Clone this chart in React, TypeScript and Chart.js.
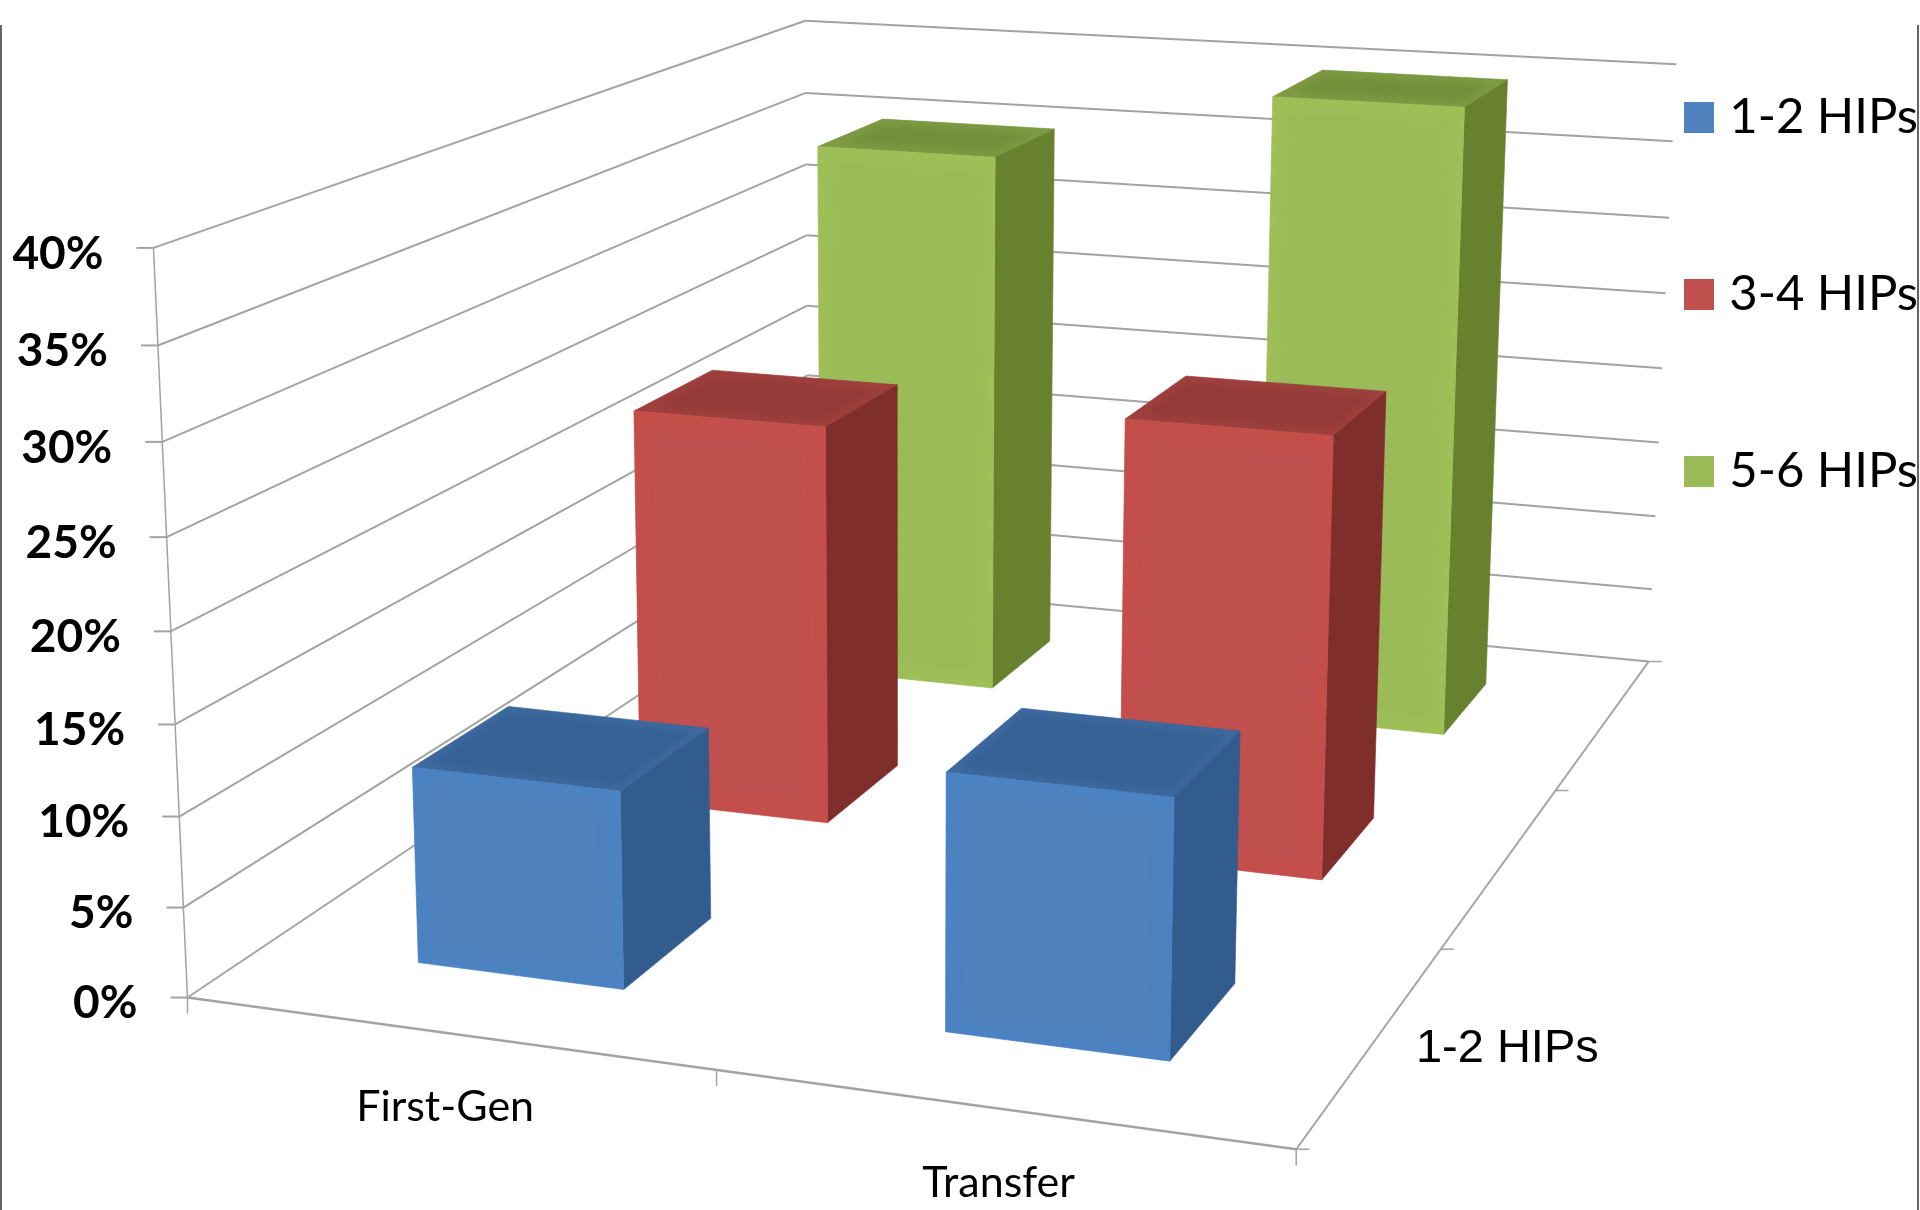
import React, { useEffect, useRef } from "react";
import { Chart, registerables, BarController } from "chart.js";

Chart.register(...registerables);

// Chart data
const categories = ["First-Gen", "Transfer"];
const seriesNames = ["1-2 HIPs", "3-4 HIPs", "5-6 HIPs"];
const oneTwoHips = [11, 14];
const threeFourHips = [24, 25.9];
const fiveSixHips = [35, 39.8];
const seriesColors = ["#4F81BD", "#C0504D", "#9BBB59"];
const topColors = ["#366195", "#943B39", "#72903A"];
const sideColors = ["#325C8E", "#7F2E2C", "#67812F"];
const bevelColors = ["#4387CE", "#CE4B46", "#A2C853"];

// Box proportions of the 3D plot: spacing between bars as a share of bar size.
const GAP_WIDTH = 1.5;
const GAP_DEPTH = 1.5;
const GRID = "#a3a3a3";

// Camera calibration: cube position (across, depth, height) and where it lands on the canvas.
const anchors = [
  [0, 0, 0, 187.7, 997.7],
  [1, 0, 0, 1295.6, 1148.6],
  [1, 1, 0, 1648, 661.5],
  [0, 0, 1, 153.3, 248.3],
  [0, 1, 1, 805.4, 20.6],
  [1, 1, 1, 1676, 64.5],
  [0.5, 0, 0, 716, 1070],
  [1, 1 / 3, 0, 1442, 949.4],
  [1, 2 / 3, 0, 1555.8, 791],
  [0, 0, 0.5, 171, 631],
  [1, 1, 0.5, 1662.5, 368],
];

// Least-squares fit of a 3x4 projection matrix with its last entry fixed at 1.
function solveCamera(rows: number[][]) {
  const n = 11;
  const A = Array.from({ length: n }, () => new Array(n + 1).fill(0));
  const add = (c: number[], r: number) => {
    for (let i = 0; i < n; i++) {
      for (let j = 0; j < n; j++) A[i][j] += c[i] * c[j];
      A[i][n] += c[i] * r;
    }
  };
  for (const [u, v, w, x, y] of rows) {
    add([u, v, w, 1, 0, 0, 0, 0, -x * u, -x * v, -x * w], x);
    add([0, 0, 0, 0, u, v, w, 1, -y * u, -y * v, -y * w], y);
  }
  for (let c = 0; c < n; c++) {
    let p = c;
    for (let r = c + 1; r < n; r++) if (Math.abs(A[r][c]) > Math.abs(A[p][c])) p = r;
    [A[c], A[p]] = [A[p], A[c]];
    for (let r = 0; r < n; r++) {
      if (r === c) continue;
      const f = A[r][c] / A[c][c];
      for (let k = c; k <= n; k++) A[r][k] -= f * A[c][k];
    }
  }
  return A.map((row, i) => row[n] / row[i]);
}

const cam = solveCamera(anchors);
type P = { x: number; y: number };
const project = (u: number, v: number, w: number): P => {
  const d = cam[8] * u + cam[9] * v + cam[10] * w + 1;
  return {
    x: (cam[0] * u + cam[1] * v + cam[2] * w + cam[3]) / d,
    y: (cam[4] * u + cam[5] * v + cam[6] * w + cam[7]) / d,
  };
};

function segment(ctx: CanvasRenderingContext2D, a: P, b: P, width: number, color = GRID) {
  ctx.beginPath();
  ctx.moveTo(a.x, a.y);
  ctx.lineTo(b.x, b.y);
  ctx.lineWidth = width;
  ctx.strokeStyle = color;
  ctx.stroke();
}

function tracePath(ctx: CanvasRenderingContext2D, pts: P[]) {
  ctx.beginPath();
  pts.forEach((p, i) => (i ? ctx.lineTo(p.x, p.y) : ctx.moveTo(p.x, p.y)));
  ctx.closePath();
}

function quad(ctx: CanvasRenderingContext2D, pts: P[], fill: string) {
  tracePath(ctx, pts);
  ctx.fillStyle = fill;
  ctx.fill();
  ctx.lineWidth = 0.6;
  ctx.strokeStyle = fill;
  ctx.stroke();
}

// Soft rim along the inside of a face, the rounded-bevel look of the box fronts.
function softRim(ctx: CanvasRenderingContext2D, pts: P[], color: string, width: number, blur: number, alpha: number) {
  ctx.save();
  tracePath(ctx, pts);
  ctx.clip();
  ctx.filter = `blur(${blur}px)`;
  ctx.globalAlpha = alpha;
  tracePath(ctx, pts);
  ctx.lineWidth = width;
  ctx.strokeStyle = color;
  ctx.stroke();
  ctx.restore();
}

const dec = (scale: any, value: number) => scale.getDecimalForPixel(scale.getPixelForValue(value));

// Bar controller that paints every element as a shaded box in the projected cube.
class Bar3DController extends BarController {
  static id = "bar3d";
  draw() {
    const chart = this.chart;
    const ctx = chart.ctx;
    const { x: xs, y: ys, z: zs } = chart.scales as any;
    const ds = this.index;
    const halfU = 0.5 / categories.length / (1 + GAP_WIDTH);
    const halfV = 0.5 / seriesNames.length / (1 + GAP_DEPTH);
    const values = this.getDataset().data as number[];
    const vc = dec(zs, ds);
    values.forEach((value, i) => {
      const uc = dec(xs, i);
      const w = dec(ys, value);
      const [u0, u1, v0, v1] = [uc - halfU, uc + halfU, vc - halfV, vc + halfV];
      const fbl = project(u0, v0, 0);
      const fbr = project(u1, v0, 0);
      const ftl = project(u0, v0, w);
      const ftr = project(u1, v0, w);
      const bbr = project(u1, v1, 0);
      const btr = project(u1, v1, w);
      const btl = project(u0, v1, w);
      const top = [ftl, btl, btr, ftr];
      const side = [fbr, bbr, btr, ftr];
      const front = [fbl, fbr, ftr, ftl];
      quad(ctx, top, topColors[ds]);
      quad(ctx, side, sideColors[ds]);
      quad(ctx, front, seriesColors[ds]);
      softRim(ctx, top, seriesColors[ds], 10, 4, 0.3);
      softRim(ctx, front, bevelColors[ds], 20, 7, 0.4);
    });
  }
}
Chart.register(Bar3DController);

// Walls, floor, tick marks and axis labels around the boxes.
const framePlugin = {
  id: "frame3d",
  beforeDraw(chart: any) {
    // Legend sits in the top right corner and is cut at the frame edge.
    const lg = chart.legend;
    lg.left = 1556;
    lg.right = 1918;
    lg.top = -35;
    lg.bottom = 1210;
  },
  beforeDatasetsDraw(chart: any) {
    const ctx: CanvasRenderingContext2D = chart.ctx;
    const { y: ys } = chart.scales;
    ctx.save();
    ctx.lineCap = "butt";
    for (const tick of ys.ticks) {
      const w = dec(ys, tick.value);
      const front = project(0, 0, w);
      const corner = project(0, 1, w);
      const end = project(1, 1, w);
      segment(ctx, front, corner, 2);
      segment(ctx, corner, end, 2);
      segment(ctx, { x: front.x - 17, y: front.y }, front, 2);
      ctx.fillStyle = "#000";
      ctx.font = "bold 46px Lato";
      ctx.textAlign = "right";
      ctx.textBaseline = "middle";
      ctx.fillText(tick.label, front.x - 50, front.y + 6);
    }
    segment(ctx, project(0, 0, 0), project(0, 0, 1), 1.5);
    segment(ctx, project(0, 0, 0), project(1, 0, 0), 2.5);
    segment(ctx, project(1, 0, 0), project(1, 1, 0), 2);
    for (let i = 0; i <= categories.length; i++) {
      const p = project(i / categories.length, 0, 0);
      segment(ctx, p, { x: p.x, y: p.y + 16 }, 1.5);
    }
    for (let i = 0; i <= seriesNames.length; i++) {
      const p = project(1, i / seriesNames.length, 0);
      segment(ctx, p, { x: p.x + 13, y: p.y }, 1.5);
    }
    ctx.restore();
  },
  afterDatasetsDraw(chart: any) {
    const ctx: CanvasRenderingContext2D = chart.ctx;
    const { x: xs, z: zs } = chart.scales;
    ctx.save();
    ctx.fillStyle = "#000";
    ctx.textBaseline = "middle";
    ctx.textAlign = "center";
    ctx.font = "43px Lato";
    categories.forEach((name, i) => {
      const p = project(dec(xs, i), 0, 0);
      ctx.fillText(name, p.x - 1, p.y + 74);
    });
    // Only the first depth label fits along the floor's right edge.
    const p = project(1, dec(zs, 0), 0);
    ctx.textAlign = "left";
    ctx.font = "47px 'Liberation Sans'";
    ctx.fillText(seriesNames[0], p.x + 43, p.y + 6);
    // Thin border down both sides of the page.
    segment(ctx, { x: 1, y: 25 }, { x: 1, y: 1210 }, 2, "#666");
    segment(ctx, { x: 1918, y: 25 }, { x: 1918, y: 1210 }, 2, "#666");
    ctx.restore();
  },
};

export default function App() {
  const ref = useRef<HTMLCanvasElement>(null);
  useEffect(() => {
    const chart = new Chart(ref.current!, {
      type: "bar3d" as any,
      plugins: [framePlugin],
      data: {
        labels: categories,
        datasets: [oneTwoHips, threeFourHips, fiveSixHips].map((data, i) => ({
          label: seriesNames[i],
          data,
          backgroundColor: seriesColors[i],
        })),
      },
      options: {
        animation: false,
        responsive: false,
        layout: { padding: 0 },
        scales: {
          x: { type: "category", offset: true, display: false },
          y: {
            type: "linear",
            min: 0,
            max: 40,
            display: false,
            ticks: { stepSize: 5, callback: (v: any) => `${v}%` },
          },
          z: { type: "category", axis: "x", labels: seriesNames, offset: true, display: false },
        } as any,
        plugins: {
          tooltip: { enabled: false },
          legend: {
            position: "right",
            align: "start",
            labels: {
              boxWidth: 30,
              boxHeight: 31,
              padding: 128,
              color: "#000",
              textAlign: "right",
              font: { family: "Lato", size: 49 },
            },
          },
        },
      },
    });
    return () => chart.destroy();
  }, []);
  return (
    <canvas
      ref={ref}
      width={1920}
      height={1210}
      style={{ position: "absolute", left: 0, top: 0, width: 1920, height: 1210 }}
    />
  );
}
